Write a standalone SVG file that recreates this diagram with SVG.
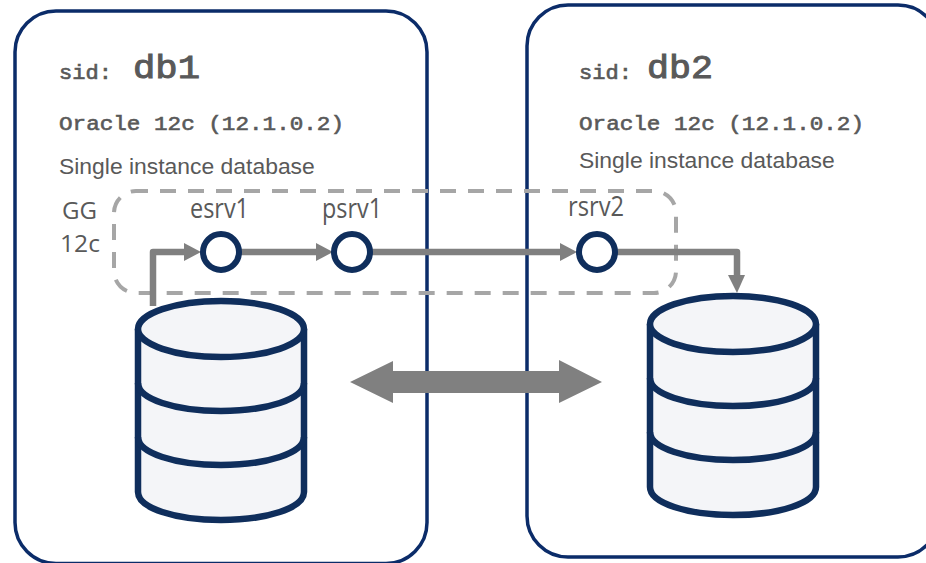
<svg xmlns="http://www.w3.org/2000/svg" width="926" height="563" viewBox="0 0 926 563">
<style>
.panel{fill:#fff;stroke:#0b2c69;stroke-width:3.5}
.mono{font-family:"Liberation Mono",monospace;fill:#595959;stroke:#595959;stroke-width:.6}
.sans{font-family:"Liberation Sans",Arial,sans-serif;font-size:22.9px;fill:#595959}
.lbl{font-family:"Open Sans","Noto Sans",sans-serif;font-size:27px;fill:#595959}
.gg{font-family:"Open Sans","Noto Sans",sans-serif;font-size:24px;fill:#595959}
.db{fill:#f4f5f8;stroke:#0f2e5c;stroke-width:6.5;stroke-linejoin:round}
.node{fill:#fff;stroke:#0f2e5c;stroke-width:6}
.wire{fill:none;stroke:#808080;stroke-width:6.5;stroke-linejoin:round}
.head{fill:#808080}
</style>
<defs>
<g id="cyl">
<path class="db" d="M-83 0V163C-83 179-46 191 0 191S83 179 83 163V0"/>
<ellipse class="db" cx="0" cy="0" rx="83" ry="28"/>
<path class="db" style="fill:none" d="M-83 54C-83 70-46 82 0 82S83 70 83 54M-83 108C-83 124-46 136 0 136S83 124 83 108"/>
</g>
</defs>
<g id="panel-db1"><rect class="panel" x="15" y="11" width="412" height="552.5" rx="41"/>
<text class="mono" x="59" y="79" font-size="20" textLength="53" lengthAdjust="spacingAndGlyphs">sid:</text>
<text class="mono" x="133" y="78" font-size="33" textLength="67" lengthAdjust="spacingAndGlyphs" style="stroke-width:1">db1</text>
<text class="mono" x="59" y="130" font-size="20.5" textLength="285" lengthAdjust="spacingAndGlyphs">Oracle 12c (12.1.0.2)</text>
<text class="sans" x="59" y="174">Single instance database</text>
<text class="gg" x="62" y="219" textLength="35" lengthAdjust="spacingAndGlyphs">GG</text>
<text class="gg" x="60" y="252" textLength="40" lengthAdjust="spacingAndGlyphs">12c</text>
</g>
<g id="panel-db2"><rect class="panel" x="527" y="5" width="412" height="552" rx="41"/>
<text class="mono" x="579" y="79" font-size="20" textLength="53" lengthAdjust="spacingAndGlyphs">sid:</text>
<text class="mono" x="647" y="78" font-size="33" textLength="66" lengthAdjust="spacingAndGlyphs" style="stroke-width:1">db2</text>
<text class="mono" x="579" y="130" font-size="20.5" textLength="285" lengthAdjust="spacingAndGlyphs">Oracle 12c (12.1.0.2)</text>
<text class="sans" x="579" y="168">Single instance database</text>
</g>
<g id="gg-group"><rect x="114" y="191" width="562" height="102" rx="22" fill="none" stroke="#a6a6a6" stroke-width="4" stroke-dasharray="16 12" stroke-dashoffset="4"/></g>
<g id="connectors">
<path class="wire" d="M153 306V252H186"/><polygon class="head" points="184,243 201,252 184,261"/>
<path class="wire" d="M240 252H318"/><polygon class="head" points="316,243 333,252 316,261"/>
<path class="wire" d="M372 252H562"/><polygon class="head" points="560,243 577,252 560,261"/>
<path class="wire" d="M616 252H737V277"/><polygon class="head" points="728,275 745,275 737,293"/>
<polygon id="sync" fill="#808080" points="350,382 393,361 393,371 559,371 559,360 602,382 559,403 559,393 393,393 393,403"/>
</g>
<g id="db1"><use href="#cyl" x="221" y="329"/></g>
<g id="db2"><use href="#cyl" x="733" y="324"/></g>
<g id="esrv1"><circle class="node" cx="221" cy="252" r="18"/><text class="lbl" x="190" y="218" textLength="59" lengthAdjust="spacingAndGlyphs">esrv1</text></g>
<g id="psrv1"><circle class="node" cx="352" cy="252" r="18"/><text class="lbl" x="322" y="218" textLength="60" lengthAdjust="spacingAndGlyphs">psrv1</text></g>
<g id="rsrv2"><circle class="node" cx="597" cy="252" r="18"/><text class="lbl" x="568" y="216" textLength="56" lengthAdjust="spacingAndGlyphs">rsrv2</text></g>
</svg>
